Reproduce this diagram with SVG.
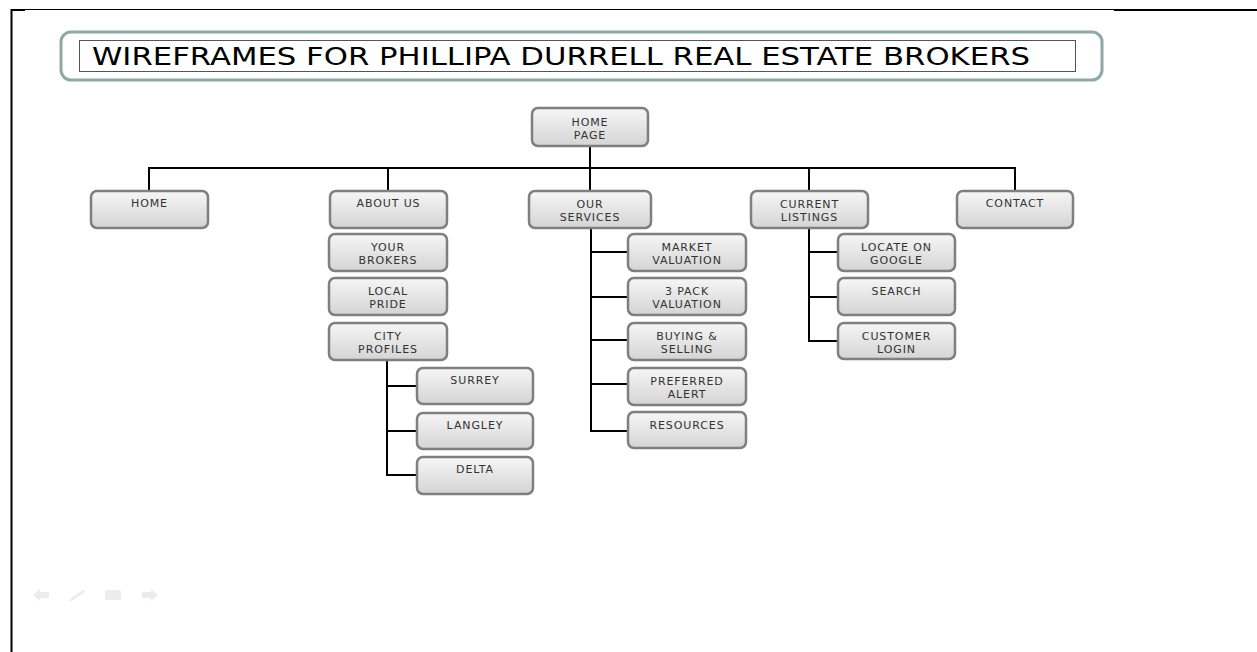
<svg xmlns="http://www.w3.org/2000/svg" width="1257" height="652" viewBox="0 0 1257 652">
<defs>
<linearGradient id="g" x1="0" y1="0" x2="0" y2="1">
<stop offset="0" stop-color="#f6f6f6"/>
<stop offset="1" stop-color="#d4d4d4"/>
</linearGradient>
<style>
.box{fill:url(#g);stroke:#7f7f7f;stroke-width:2.5}
.lbl{font-family:"DejaVu Sans",Verdana,sans-serif;font-size:11px;fill:#333;text-anchor:middle;letter-spacing:0.9px}
.con line{stroke:#000;stroke-width:2}
.nav{fill:#ececec}
</style>
</defs>
<rect x="0" y="0" width="1257" height="652" fill="#fff"/>
<!-- frame -->
<g id="frame">
<line x1="11" y1="9.5" x2="1114" y2="9.5" stroke="#000" stroke-width="1"/>
<line x1="1114" y1="10" x2="1257" y2="10" stroke="#000" stroke-width="2"/>
<line x1="11" y1="10" x2="25" y2="10" stroke="#000" stroke-width="2"/>
<line x1="11.5" y1="9" x2="11.5" y2="652" stroke="#000" stroke-width="2"/>
</g>
<!-- title -->
<g id="title">
<rect x="61" y="32" width="1041" height="48" rx="10" fill="#fff" stroke="#8fa8a8" stroke-width="3"/>
<rect x="79.5" y="40.5" width="996" height="31" fill="#fff" stroke="#555" stroke-width="1"/>
<text x="92" y="64.5" font-family="'DejaVu Sans',sans-serif" font-size="25" fill="#000" textLength="938" lengthAdjust="spacingAndGlyphs">WIREFRAMES FOR PHILLIPA DURRELL REAL ESTATE BROKERS</text>
</g>
<!-- connectors -->
<g id="connectors" class="con">
<line x1="590" y1="146" x2="590" y2="191"/>
<line x1="148" y1="168" x2="1016" y2="168"/>
<line x1="149" y1="167" x2="149" y2="191"/>
<line x1="388" y1="167" x2="388" y2="191"/>
<line x1="809" y1="167" x2="809" y2="191"/>
<line x1="1015" y1="167" x2="1015" y2="191"/>
<line x1="591" y1="229" x2="591" y2="432"/>
<line x1="590" y1="252" x2="628" y2="252"/>
<line x1="590" y1="297" x2="628" y2="297"/>
<line x1="590" y1="340" x2="628" y2="340"/>
<line x1="590" y1="384" x2="628" y2="384"/>
<line x1="590" y1="431" x2="628" y2="431"/>
<line x1="809" y1="228" x2="809" y2="342"/>
<line x1="808" y1="252" x2="838" y2="252"/>
<line x1="808" y1="297" x2="838" y2="297"/>
<line x1="808" y1="341" x2="838" y2="341"/>
<line x1="387" y1="361" x2="387" y2="476"/>
<line x1="386" y1="386" x2="417" y2="386"/>
<line x1="386" y1="431" x2="417" y2="431"/>
<line x1="386" y1="475" x2="417" y2="475"/>
</g>
<!-- nodes -->
<g id="home-page"><rect class="box" x="532" y="108" width="116" height="38" rx="6"/><text class="lbl" x="590" y="126">HOME</text><text class="lbl" x="590" y="139">PAGE</text></g>
<g id="home"><rect class="box" x="91" y="191" width="117" height="37" rx="6"/><text class="lbl" x="149.5" y="207">HOME</text></g>
<g id="about-us"><rect class="box" x="330" y="191" width="117" height="37" rx="6"/><text class="lbl" x="388.5" y="207">ABOUT US</text></g>
<g id="your-brokers"><rect class="box" x="329" y="234" width="118" height="37" rx="6"/><text class="lbl" x="388" y="251">YOUR</text><text class="lbl" x="388" y="264">BROKERS</text></g>
<g id="local-pride"><rect class="box" x="329" y="278" width="118" height="37" rx="6"/><text class="lbl" x="388" y="295">LOCAL</text><text class="lbl" x="388" y="308">PRIDE</text></g>
<g id="city-profiles"><rect class="box" x="329" y="323" width="118" height="37" rx="6"/><text class="lbl" x="388" y="340">CITY</text><text class="lbl" x="388" y="353">PROFILES</text></g>
<g id="our-services"><rect class="box" x="529" y="191" width="122" height="37" rx="6"/><text class="lbl" x="590" y="208">OUR</text><text class="lbl" x="590" y="221">SERVICES</text></g>
<g id="market-valuation"><rect class="box" x="628" y="234" width="118" height="37" rx="6"/><text class="lbl" x="687" y="251">MARKET</text><text class="lbl" x="687" y="264">VALUATION</text></g>
<g id="3-pack-valuation"><rect class="box" x="628" y="278" width="118" height="37" rx="6"/><text class="lbl" x="687" y="295">3 PACK</text><text class="lbl" x="687" y="308">VALUATION</text></g>
<g id="buying-selling"><rect class="box" x="628" y="323" width="118" height="37" rx="6"/><text class="lbl" x="687" y="340">BUYING &amp;</text><text class="lbl" x="687" y="353">SELLING</text></g>
<g id="preferred-alert"><rect class="box" x="628" y="368" width="118" height="37" rx="6"/><text class="lbl" x="687" y="385">PREFERRED</text><text class="lbl" x="687" y="398">ALERT</text></g>
<g id="resources"><rect class="box" x="628" y="412" width="118" height="36" rx="6"/><text class="lbl" x="687" y="429">RESOURCES</text></g>
<g id="current-listings"><rect class="box" x="751" y="191" width="117" height="37" rx="6"/><text class="lbl" x="809.5" y="208">CURRENT</text><text class="lbl" x="809.5" y="221">LISTINGS</text></g>
<g id="locate-on-google"><rect class="box" x="838" y="234" width="117" height="37" rx="6"/><text class="lbl" x="896.5" y="251">LOCATE ON</text><text class="lbl" x="896.5" y="264">GOOGLE</text></g>
<g id="search"><rect class="box" x="838" y="278" width="117" height="37" rx="6"/><text class="lbl" x="896.5" y="295">SEARCH</text></g>
<g id="customer-login"><rect class="box" x="838" y="323" width="117" height="36" rx="6"/><text class="lbl" x="896.5" y="340">CUSTOMER</text><text class="lbl" x="896.5" y="353">LOGIN</text></g>
<g id="contact"><rect class="box" x="957" y="191" width="116" height="37" rx="6"/><text class="lbl" x="1015" y="207">CONTACT</text></g>
<g id="surrey"><rect class="box" x="417" y="368" width="116" height="36" rx="6"/><text class="lbl" x="475" y="384">SURREY</text></g>
<g id="langley"><rect class="box" x="417" y="413" width="116" height="36" rx="6"/><text class="lbl" x="475" y="429">LANGLEY</text></g>
<g id="delta"><rect class="box" x="417" y="457" width="116" height="37" rx="6"/><text class="lbl" x="475" y="473">DELTA</text></g>
<!-- faint slide navigation icons -->
<g id="nav">
<polygon class="nav" points="33,595 40,589 40,592 49,592 49,598 40,598 40,601"/>
<polygon class="nav" points="69,602 71,598 83,590 85,592 73,600"/>
<rect class="nav" x="105" y="590" width="16" height="10" rx="2"/>
<polygon class="nav" points="158,595 151,589 151,592 142,592 142,598 151,598 151,601"/>
</g>
</svg>
